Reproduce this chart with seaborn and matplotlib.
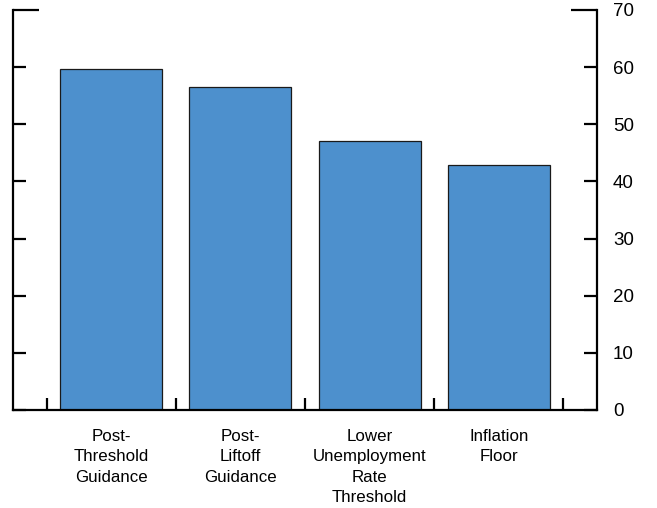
import matplotlib
matplotlib.use("Agg")
import matplotlib.pyplot as plt
import seaborn as sns
import pandas as pd

categories = ["Post-\nThreshold\nGuidance", "Post-\nLiftoff\nGuidance",
              "Lower\nUnemployment\nRate\nThreshold", "Inflation\nFloor"]
values = [59.7, 56.5, 47.1, 42.9]
yticks = [0, 10, 20, 30, 40, 50, 60, 70]

sns.set_style("white")
plt.rcParams['font.family'] = ['Liberation Sans', 'DejaVu Sans']
plt.rcParams['text.color'] = 'black'
plt.rcParams['xtick.labelcolor'] = 'black'
plt.rcParams['ytick.labelcolor'] = 'black'

df = pd.DataFrame({"cat": categories, "val": values})

fig = plt.figure(figsize=(6.57, 5.08), dpi=100)
ax = fig.add_axes([13/657, 1 - 410/508, (597-13)/657, 400/508])

sns.barplot(data=df, x="cat", y="val", ax=ax, color="#4D90CD", saturation=1,
            width=0.79, edgecolor="#1a1a1a", linewidth=0.9)

ax.set_xlim(-0.76, 3.76)
ax.set_ylim(0, 70)
ax.set_xlabel("")
ax.set_ylabel("")

for s in ["left", "right", "bottom"]:
    ax.spines[s].set_visible(True)
    ax.spines[s].set_linewidth(1.6)
    ax.spines[s].set_color("black")
ax.spines["top"].set_visible(False)

ax.set_yticks(yticks)
ax.yaxis.tick_right()
ax.tick_params(axis="y", which="major", left=True, right=True, direction="in",
               length=9.5, width=1.6, color="black", labelsize=13.5, pad=11.5,
               labelleft=False, labelright=True, labelcolor="black")
# longer top tick
t = ax.yaxis.get_major_ticks()[-1]
t.tick1line.set_markersize(18.5)
t.tick2line.set_markersize(18.5)

# x: category labels at centers, boundary ticks as minor
ax.set_xticks(range(len(categories)))
ax.set_xticklabels(categories, fontsize=12.2, linespacing=1.45, va="top", color="black")
ax.set_xticks([i - 0.5 for i in range(len(categories) + 1)], minor=True)
ax.tick_params(axis="x", which="major", length=0, pad=13.5)
ax.tick_params(axis="x", which="minor", bottom=True, direction="in", length=9, width=1.6,
               color="black")

fig.savefig("out.png", dpi=100)
